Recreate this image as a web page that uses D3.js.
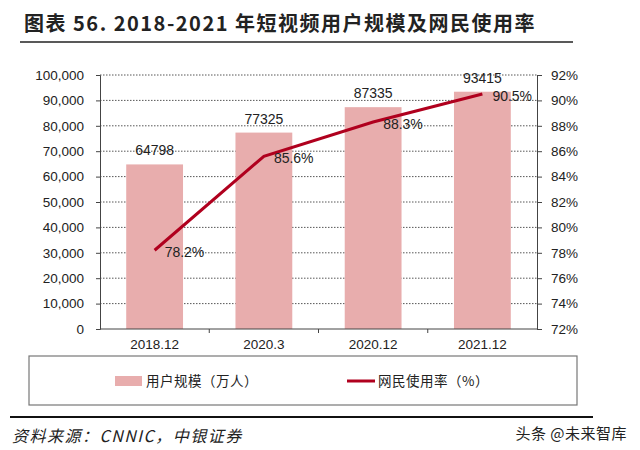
<!DOCTYPE html>
<html lang="zh">
<head>
    <meta charset="UTF-8">
    <title>短视频用户规模及网民使用率</title>
    <script src="https://cdn.jsdelivr.net/npm/d3@7/dist/d3.min.js"></script>
    <style>
        body { margin: 0; background: #fff; }
        text { font-family: "Liberation Sans", Arial, sans-serif; fill: #222; }
        .cjk { font-family: "Noto Sans CJK SC", sans-serif; }
        .axis path, .axis line { stroke: #444; }
        .grid line { stroke: #444; stroke-dasharray: 1.5,1.5; stroke-width: 0.9; }
    </style>
</head>
<body>
    <svg id="chart" width="640" height="450"></svg>
    <script>
        // 数据
        const categories = ["2018.12", "2020.3", "2020.12", "2021.12"]
        const users = [64798, 77325, 87335, 93415]       // 用户规模（万人）
        const rates = [78.2, 85.6, 88.3, 90.5]           // 网民使用率（%）
        const leftTicks = [0, 10000, 20000, 30000, 40000, 50000, 60000, 70000, 80000, 90000, 100000]
        const rightTicks = [72, 74, 76, 78, 80, 82, 84, 86, 88, 90, 92]

        const barColor = "#e8adad"
        const lineColor = "#b0001e"

        const svg = d3.select("#chart")
        const plot = { left: 100, right: 537, top: 75, bottom: 329 }

        const x = d3.scaleBand().domain(categories).range([plot.left, plot.right]).paddingInner(0.48).paddingOuter(0.24)
        const xb = d3.scaleBand().domain(categories).range([plot.left, plot.right])
        const y = d3.scaleLinear().domain([0, 100000]).range([plot.bottom, plot.top])
        const y2 = d3.scaleLinear().domain([72, 92]).range([plot.bottom, plot.top])

        // title
        svg.append("text").attr("x", 24).attr("y", 31)
            .style("font-size", "20px").style("font-weight", "bold").style("letter-spacing", "1.5px")
            .attr("class", "cjk").attr("fill", "#111")
            .text("图表 56. 2018-2021 年短视频用户规模及网民使用率")
        svg.append("line").attr("x1", 20).attr("x2", 573).attr("y1", 42).attr("y2", 42)
            .attr("stroke", "#222").attr("stroke-width", 1.6)

        // gridlines
        svg.append("g").attr("class", "grid").selectAll("line")
            .data(leftTicks.slice(1)).enter().append("line")
            .attr("x1", plot.left).attr("x2", plot.right)
            .attr("y1", d => y(d)).attr("y2", d => y(d))

        // bars
        svg.append("g").selectAll("rect").data(users).enter().append("rect")
            .attr("x", (d, i) => x(categories[i]))
            .attr("y", d => y(d))
            .attr("width", x.bandwidth())
            .attr("height", d => y(0) - y(d))
            .attr("fill", barColor)

        svg.append("g").selectAll("text").data(users).enter().append("text")
            .attr("x", (d, i) => x(categories[i]) + x.bandwidth() / 2)
            .attr("y", d => y(d) - 9)
            .attr("text-anchor", "middle")
            .style("font-size", "14px")
            .text(d => d)

        // axes
        const leftAxis = d3.axisLeft(y).tickValues(leftTicks).tickSize(4).tickPadding(12)
            .tickFormat(d3.format(","))
        svg.append("g").attr("class", "axis").attr("transform", `translate(${plot.left},0)`)
            .call(leftAxis)
            .call(g => g.selectAll("text").style("font-size", "13.5px").attr("fill", "#222"))

        const rightAxis = d3.axisRight(y2).tickValues(rightTicks).tickSize(5).tickPadding(9)
            .tickFormat(d => d + "%")
        svg.append("g").attr("class", "axis").attr("transform", `translate(${plot.right},0)`)
            .call(rightAxis)
            .call(g => g.selectAll("text").style("font-size", "13.5px").attr("fill", "#222"))

        const xAxis = d3.axisBottom(xb).tickSize(0).tickPadding(10)
        const gx = svg.append("g").attr("class", "axis").attr("transform", `translate(0,${plot.bottom})`)
            .call(xAxis)
        gx.select(".domain").attr("d", `M${plot.left},0H${plot.right}`)
        gx.selectAll("text").style("font-size", "13.5px").attr("fill", "#222")
        gx.selectAll(".sep").data(categories.slice(1)).enter().append("line")
            .attr("x1", d => xb(d)).attr("x2", d => xb(d))
            .attr("y1", 0).attr("y2", 4).attr("stroke", "#444")

        // line
        const line = d3.line()
            .x((d, i) => xb(categories[i]) + xb.bandwidth() / 2)
            .y(d => y2(d))
        svg.append("path").datum(rates).attr("d", line)
            .attr("fill", "none").attr("stroke", lineColor).attr("stroke-width", 3)

        svg.append("g").selectAll("text").data(rates).enter().append("text")
            .attr("x", (d, i) => xb(categories[i]) + xb.bandwidth() / 2 + 10)
            .attr("y", d => y2(d) + 7)
            .style("font-size", "14px")
            .text(d => d.toFixed(1) + "%")

        // legend
        svg.append("rect").attr("x", 29).attr("y", 356).attr("width", 548).attr("height", 49)
            .attr("fill", "none").attr("stroke", "#777").attr("stroke-width", 1.2)
        svg.append("rect").attr("x", 115).attr("y", 376).attr("width", 27).attr("height", 10)
            .attr("fill", barColor)
        svg.append("text").attr("x", 146).attr("y", 386).attr("class", "cjk")
            .style("font-size", "13.5px").style("letter-spacing", "0.5px").attr("fill", "#333")
            .text("用户规模（万人）")
        svg.append("line").attr("x1", 347).attr("x2", 375).attr("y1", 381).attr("y2", 381)
            .attr("stroke", lineColor).attr("stroke-width", 3)
        svg.append("text").attr("x", 378).attr("y", 386).attr("class", "cjk")
            .style("font-size", "13.5px").style("letter-spacing", "0.5px").attr("fill", "#333")
            .text("网民使用率（%）")

        // footer
        svg.append("line").attr("x1", 10).attr("x2", 593).attr("y1", 417).attr("y2", 417)
            .attr("stroke", "#111").attr("stroke-width", 2)
        svg.append("text").attr("x", 12).attr("y", 442).attr("class", "cjk")
            .style("font-size", "16px").style("font-style", "italic").style("letter-spacing", "1.5px")
            .attr("fill", "#222")
            .text("资料来源：CNNIC，中银证券")
        svg.append("text").attr("x", 627).attr("y", 439).attr("class", "cjk")
            .attr("text-anchor", "end")
            .style("font-size", "15px").style("letter-spacing", "0.5px").attr("fill", "#555")
            .text("头条 @未来智库")
    </script>
</body>
</html>
